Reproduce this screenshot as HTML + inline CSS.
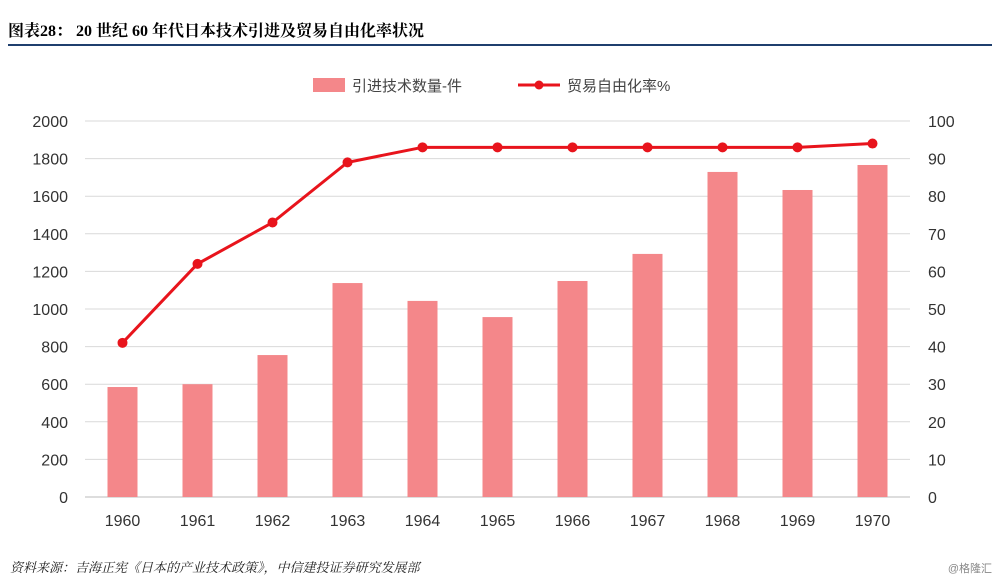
<!DOCTYPE html>
<html><head><meta charset="utf-8"><style>
body{margin:0;background:#fff;width:1000px;height:586px;overflow:hidden;font-family:"Liberation Sans","Noto Sans CJK SC",sans-serif}
svg{display:block}
</style></head><body>
<svg id="c" width="1000" height="586">
<text x="8" y="36" font-size="16" font-weight="bold" fill="#000" font-family="Liberation Serif, Noto Serif CJK SC, serif">图表28：  20 世纪 60 年代日本技术引进及贸易自由化率状况</text>
<rect x="8" y="44" width="984" height="2" fill="#1f3f6e"/>
<g>
<rect x="313" y="78" width="32" height="14" fill="#f4878a"/>
<text x="352" y="91" font-size="15" fill="#444">引进技术数量-件</text>
<line x1="518" y1="85" x2="560" y2="85" stroke="#e8141c" stroke-width="3"/>
<circle cx="539" cy="85" r="4.5" fill="#e8141c"/>
<text x="567" y="91" font-size="15" fill="#444">贸易自由化率%</text>
</g>
<g id="plot"></g>
<text x="10" y="572" font-size="13" font-style="italic" fill="#222" font-family="Liberation Serif, Noto Serif CJK SC, serif">资料来源：吉海正宪《日本的产业技术政策》，中信建投证券研究发展部</text>
<text x="992" y="572" font-size="11" fill="#888" text-anchor="end">@格隆汇</text>
</svg>
<script>
const years=["1960","1961","1962","1963","1964","1965","1966","1967","1968","1969","1970"];
const imports=[585,600,755,1138,1043,957,1149,1293,1729,1633,1766];
const liberal=[41,62,73,89,93,93,93,93,93,93,94];
const leftTicks=[0,200,400,600,800,1000,1200,1400,1600,1800,2000];
const rightTicks=[0,10,20,30,40,50,60,70,80,90,100];
const NS="http://www.w3.org/2000/svg";
const g=document.getElementById('plot');
const x0=85,x1=910,yTop=121,yBot=497;
const yl=v=>yBot-(v/2000)*(yBot-yTop);
const yr=v=>yBot-(v/100)*(yBot-yTop);
const step=(x1-x0)/years.length;
const xc=i=>x0+step*(i+0.5);
function mk(t,a){const e=document.createElementNS(NS,t);for(const k in a)e.setAttribute(k,a[k]);g.appendChild(e);return e;}
leftTicks.forEach((v,i)=>{
 const l=mk('line',{x1:x0,x2:x1,y1:yl(v),y2:yl(v),stroke:v===0?'#bbb':'#d9d9d9','stroke-width':1});
 
 
 const t=mk('text',{x:68,y:yl(v)+6,'font-size':16,fill:'#333','text-anchor':'end'});t.textContent=v;
 
 
});
rightTicks.forEach(v=>{
 const t=mk('text',{x:928,y:yr(v)+6,'font-size':16,fill:'#333'});t.textContent=v;
 
 
});
years.forEach((y,i)=>{
 const b=mk('rect',{x:xc(i)-15,y:yl(imports[i]),width:30,height:yBot-yl(imports[i]),fill:'#f4878a'});
 
 
 const t=mk('text',{x:xc(i),y:526,'font-size':16,fill:'#333','text-anchor':'middle'});t.textContent=y;
 
 
});
const p=mk('polyline',{points:liberal.map((v,i)=>xc(i)+','+yr(v)).join(' '),fill:'none',stroke:'#e8141c','stroke-width':3});


liberal.forEach((v,i)=>{
 const c=mk('circle',{cx:xc(i),cy:yr(v),r:5,fill:'#e8141c'});
 
 
});
</script>
</body></html>
